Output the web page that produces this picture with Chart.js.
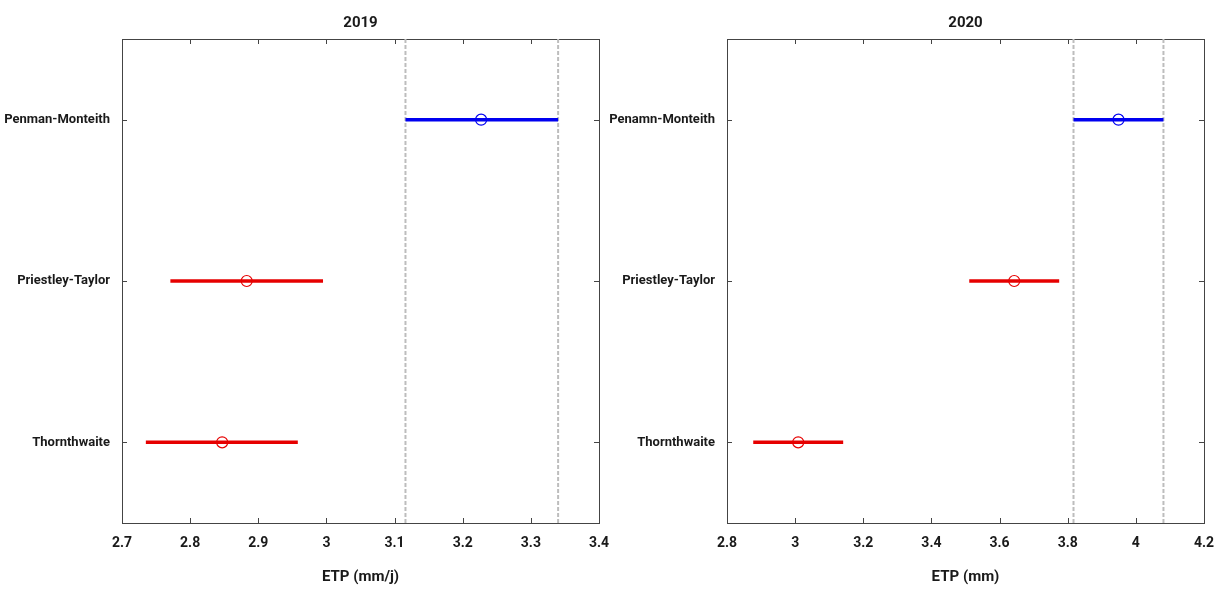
<!DOCTYPE html>
<html>
<head>
<meta charset="utf-8">
<script src="https://cdn.jsdelivr.net/npm/chart.js@4.4.1/dist/chart.umd.min.js"></script>
<style>
    html, body { margin: 0; padding: 0; background: #fff; }
    #wrap { position: relative; width: 1226px; height: 589px; }
    .panel { position: absolute; top: 0; height: 589px; }
</style>
</head>
<body>
<div id="wrap">
    <div class="panel" style="left:0"><canvas id="c2019" width="613" height="589"></canvas></div>
    <div class="panel" style="left:605px"><canvas id="c2020" width="621" height="589"></canvas></div>
</div>
<script>
// data
const methods2019 = ['Penman-Monteith', 'Priestley-Taylor', 'Thornthwaite'];
const methods2020 = ['Penamn-Monteith', 'Priestley-Taylor', 'Thornthwaite'];

const mean2019 = [3.227, 2.883, 2.847];
const low2019 = [3.116, 2.771, 2.735];
const high2019 = [3.340, 2.995, 2.958];

const mean2020 = [3.949, 3.643, 3.009];
const low2020 = [3.817, 3.511, 2.877];
const high2020 = [4.081, 3.775, 3.141];

const xTicks2019 = [2.7, 2.8, 2.9, 3.0, 3.1, 3.2, 3.3, 3.4];
const xTicks2020 = [2.8, 3.0, 3.2, 3.4, 3.6, 3.8, 4.0, 4.2];

const colors = ['#0000f0', '#e60000', '#e60000'];
const FONT = "Roboto, 'Liberation Sans', sans-serif";
const AXIS = '#444';
const TEXT = '#1a1a1a';

// small inward tick marks on all four sides, like matlab
const innerTicks = {
    id: 'innerTicks',
    afterDraw(chart) {
        const { ctx, chartArea: a, scales } = chart;
        ctx.save();
        ctx.strokeStyle = AXIS;
        ctx.lineWidth = 1;
        ctx.beginPath();
        scales.x.ticks.forEach(t => {
            const px = Math.round(scales.x.getPixelForValue(t.value)) + 0.5;
            if (px < a.left + 2 || px > a.right - 2) return;
            ctx.moveTo(px, a.bottom); ctx.lineTo(px, a.bottom - 5);
            ctx.moveTo(px, a.top); ctx.lineTo(px, a.top + 5);
        });
        scales.y.ticks.forEach(t => {
            const py = Math.round(scales.y.getPixelForValue(t.value)) + 0.5;
            ctx.moveTo(a.left, py); ctx.lineTo(a.left + 5, py);
            ctx.moveTo(a.right, py); ctx.lineTo(a.right - 5, py);
        });
        ctx.stroke();
        ctx.restore();
    }
};

function makeChart(id, year, axisTitle, cats, low, mean, high, xTicks, rightW) {
    const datasets = [];

    // dashed bounds of the first method
    [low[0], high[0]].forEach(v => {
        datasets.push({
            data: [{ x: v, y: 0.5 }, { x: v, y: 3.5 }],
            showLine: true,
            borderColor: '#bdbdbd',
            borderWidth: 2,
            borderDash: [4, 2],
            pointRadius: 0,
            order: 3
        });
    });

    cats.forEach((c, i) => {
        datasets.push({
            data: [{ x: low[i], y: i + 1 }, { x: high[i], y: i + 1 }],
            showLine: true,
            borderColor: colors[i],
            borderWidth: 3.5,
            pointRadius: 0,
            order: 2
        });
    });

    datasets.push({
        data: mean.map((v, i) => ({ x: v, y: i + 1 })),
        showLine: false,
        pointStyle: 'circle',
        pointRadius: 5.5,
        pointBorderWidth: 1.2,
        pointBorderColor: colors,
        pointBackgroundColor: 'rgba(0,0,0,0)',
        order: 1
    });

    const xMin = xTicks[0], xMax = xTicks[xTicks.length - 1];

    return new Chart(document.getElementById(id), {
        type: 'scatter',
        data: { datasets },
        options: {
            responsive: false,
            animation: false,
            devicePixelRatio: 1,
            layout: { padding: 0 },
            plugins: { legend: { display: false }, tooltip: { enabled: false } },
            scales: {
                x: {
                    type: 'linear',
                    position: 'bottom',
                    min: xMin,
                    max: xMax,
                    afterBuildTicks: s => { s.ticks = xTicks.map(v => ({ value: v })); },
                    ticks: {
                        callback: v => String(+v.toFixed(1)),
                        font: { family: FONT, size: 14, weight: 'bold' },
                        color: TEXT,
                        padding: 12,
                        maxRotation: 0
                    },
                    grid: { drawOnChartArea: false, drawTicks: false },
                    border: { color: AXIS, width: 1 },
                    title: {
                        display: true,
                        text: axisTitle,
                        font: { family: FONT, size: 15, weight: 'bold' },
                        color: TEXT,
                        padding: { top: 0, bottom: 3 }
                    },
                    afterFit: s => { s.height = 66; s.paddingLeft = 0; s.paddingRight = 0; }
                },
                x2: {
                    type: 'linear',
                    position: 'top',
                    min: xMin,
                    max: xMax,
                    ticks: { display: false },
                    grid: { display: false, drawTicks: false },
                    border: { color: AXIS, width: 1 },
                    title: {
                        display: true,
                        text: year,
                        font: { family: FONT, size: 15, weight: 'bold' },
                        color: TEXT,
                        padding: { top: 14, bottom: 0 }
                    },
                    afterFit: s => { s.height = 39; s.paddingLeft = 0; s.paddingRight = 0; }
                },
                y: {
                    type: 'linear',
                    position: 'left',
                    min: 0.5,
                    max: 3.5,
                    reverse: true,
                    afterBuildTicks: s => { s.ticks = cats.map((c, i) => ({ value: i + 1 })); },
                    ticks: {
                        callback: v => cats[v - 1],
                        font: { family: FONT, size: 13, weight: 'bold' },
                        color: TEXT,
                        padding: 12
                    },
                    grid: { drawOnChartArea: false, drawTicks: false },
                    border: { color: AXIS, width: 1 },
                    afterFit: s => { s.width = 122; s.paddingTop = 0; s.paddingBottom = 0; }
                },
                y2: {
                    type: 'linear',
                    position: 'right',
                    min: 0.5,
                    max: 3.5,
                    ticks: { display: false },
                    grid: { display: false, drawTicks: false },
                    border: { color: AXIS, width: 1 },
                    afterFit: s => { s.width = rightW; }
                }
            }
        },
        plugins: [innerTicks]
    });
}

makeChart('c2019', '2019', 'ETP (mm/j)', methods2019, low2019, mean2019, high2019, xTicks2019, 14);
makeChart('c2020', '2020', 'ETP (mm)', methods2020, low2020, mean2020, high2020, xTicks2020, 22);
</script>
</body>
</html>
